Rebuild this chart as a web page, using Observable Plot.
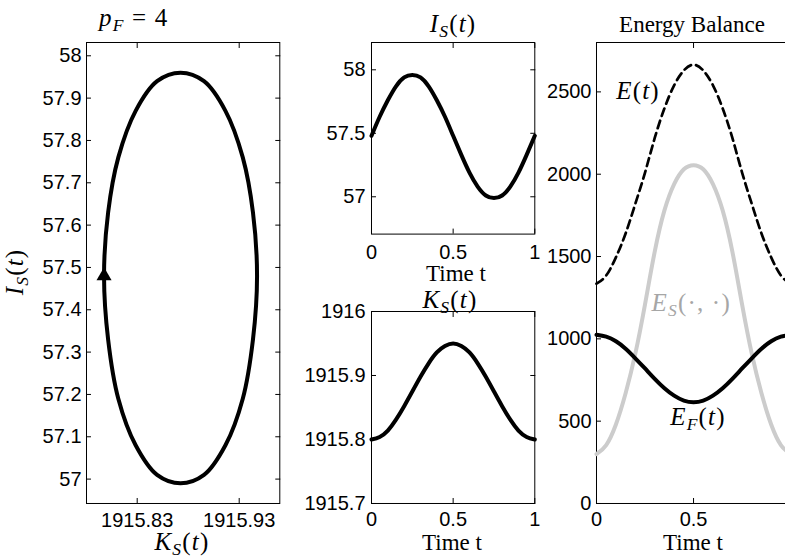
<!DOCTYPE html>
<html>
<head>
<meta charset="utf-8">
<script src="https://cdn.jsdelivr.net/npm/d3@7"></script>
<script src="https://cdn.jsdelivr.net/npm/@observablehq/plot@0.6"></script>
<style>
  html, body { margin: 0; padding: 0; background: #fff; overflow: hidden; }
  #fig { position: relative; width: 785px; height: 559px; overflow: hidden; background: #fff; }
  #fig svg { position: absolute; max-width: none; }
</style>
</head>
<body>
<div id="fig"></div>
<script>
// One period of the cycle, sampled every 0.05
const time = [0, 0.05, 0.1, 0.15, 0.2, 0.25, 0.3, 0.35, 0.4, 0.45, 0.5, 0.55, 0.6, 0.65, 0.7, 0.75, 0.8, 0.85, 0.9, 0.95, 1];
// I_S(t)
const iS = [57.48, 57.63, 57.76, 57.87, 57.94, 57.96, 57.94, 57.87, 57.76, 57.63, 57.48, 57.33, 57.19, 57.08, 57.01, 56.99, 57.01, 57.08, 57.19, 57.33, 57.48];
// K_S(t)
const kS = [1915.800, 1915.804, 1915.814, 1915.831, 1915.852, 1915.875, 1915.898, 1915.919, 1915.936, 1915.946, 1915.950, 1915.946, 1915.936, 1915.919, 1915.898, 1915.875, 1915.852, 1915.831, 1915.814, 1915.804, 1915.800];
// Energy balance: total E(t), stock part E_S, flow part E_F(t)
const energyTotal = [1335, 1385, 1495, 1640, 1820, 2010, 2220, 2400, 2540, 2630, 2665, 2630, 2540, 2400, 2220, 2010, 1820, 1640, 1495, 1385, 1335];
const energyS = [300, 355, 480, 670, 910, 1210, 1530, 1780, 1940, 2030, 2055, 2030, 1940, 1780, 1530, 1210, 910, 670, 480, 355, 300];
const energyF = [1025, 1013, 985, 940, 882, 820, 757, 700, 655, 625, 615, 625, 655, 700, 757, 820, 882, 940, 985, 1013, 1025];

// Tick values (phase-plot K ticks are printed to two decimals)
const phaseKTicks = [1915.8325, 1915.9325];
const phaseITicks = [57, 57.1, 57.2, 57.3, 57.4, 57.5, 57.6, 57.7, 57.8, 57.9, 58];
const iTicks = [57, 57.5, 58];
const kTicks = [1915.7, 1915.8, 1915.9, 1916];
const timeTicks = [0, 0.5, 1];
const energyTimeLabels = [0, 0.5];
const energyTicks = [0, 500, 1000, 1500, 2000, 2500];

// Curve labels in the energy panel
const energyLabels = [
  {t: 0.214, v: 2507, text: "E(t)", color: "black"},
  {t: 0.488, v: 1215, text: "E_S(·,·)", color: "#a6a6a6"},
  {t: 0.523, v: 526, text: "E_F(t)", color: "black"}
];

const rows = time.map((t, i) => ({t, iS: iS[i], kS: kS[i], e: energyTotal[i], es: energyS[i], ef: energyF[i]}));
const loop = rows.slice(0, rows.length - 1); // closed orbit without the repeated end point

const SANS = "'Liberation Sans', Arial, Helvetica, sans-serif";
const SERIF = "'Liberation Serif', 'Times New Roman', serif";
const MATH_FS = 25;

const fig = document.getElementById("fig");

// Boxed axes: inward ticks on all four sides, labels on bottom and left
function boxAxes(xt, yt, fmtX, fmtY, padX, padY, xLabels = xt) {
  return [
    Plot.frame({stroke: "black", strokeWidth: 1}),
    Plot.axisX(xt, {anchor: "bottom", tickSize: -5, fill: "none", label: null}),
    Plot.axisX(xt, {anchor: "top", tickSize: -5, fill: "none", label: null}),
    Plot.axisY(yt, {anchor: "left", tickSize: -5, fill: "none", label: null}),
    Plot.axisY(yt, {anchor: "right", tickSize: -5, fill: "none", label: null}),
    Plot.axisX(xLabels, {anchor: "bottom", tickSize: 0, tickPadding: padX, tickFormat: fmtX, label: null}),
    Plot.axisY(yt, {anchor: "left", tickSize: 0, tickPadding: padY, tickFormat: fmtY, label: null})
  ];
}

// Place one panel so its frame lands on the given box (page pixels)
function panel(box, xDomain, yDomain, marks) {
  const padL = 90, padT = 45, padR = 15, padB = 45;
  const w = (box.r - box.l) + padL + padR;
  const h = (box.b - box.t) + padT + padB;
  const svg = Plot.plot({
    width: w, height: h,
    marginLeft: padL, marginRight: padR, marginTop: padT, marginBottom: padB,
    x: {domain: xDomain, axis: null},
    y: {domain: yDomain, axis: null},
    style: {fontSize: "20px", fontFamily: SANS, background: "transparent", color: "black", overflow: "visible"},
    marks
  });
  svg.style.left = (box.l - padL) + "px";
  svg.style.top = (box.t - padT) + "px";
  fig.appendChild(svg);
  return svg;
}

const fmtStr = d => String(d);

// Phase portrait K_S vs I_S
panel({l: 86, t: 41.7, r: 279.3, b: 502.7}, [1915.7828, 1915.9723], [56.9424, 58.0314], [
  ...boxAxes(phaseKTicks, phaseITicks, d => d.toFixed(2), d => d.toFixed(1).replace(/\.0$/, ""), 9, 5),
  Plot.line(loop, {x: "kS", y: "iS", curve: "catmull-rom-closed", stroke: "black", strokeWidth: 4}),
  Plot.dot(rows.slice(0, 1), {x: "kS", y: "iS", symbol: "triangle", r: 5.6, fill: "black", stroke: "none"})
]);

// I_S(t)
panel({l: 371, t: 41.7, r: 534.3, b: 233.3}, [0, 1], [56.706, 58.215], [
  ...boxAxes(timeTicks, iTicks, fmtStr, fmtStr, 11, 6),
  Plot.line(rows, {x: "t", y: "iS", curve: "natural", stroke: "black", strokeWidth: 4})
]);

// K_S(t)
panel({l: 371, t: 310.7, r: 534.3, b: 502.7}, [0, 1], [1915.7, 1916], [
  ...boxAxes(timeTicks, kTicks, fmtStr, fmtStr, 8, 6),
  Plot.line(rows, {x: "t", y: "kS", curve: "natural", stroke: "black", strokeWidth: 4})
]);

// Energy balance
const energySvg = panel({l: 595.5, t: 41.7, r: 789.6, b: 502.7}, [0, 1], [0, 2800], [
  ...boxAxes(timeTicks, energyTicks, fmtStr, fmtStr, 8, 5, energyTimeLabels),
  Plot.line(rows, {x: "t", y: "es", curve: "natural", stroke: "#cccccc", strokeWidth: 4}),
  Plot.line(rows, {x: "t", y: "ef", curve: "natural", stroke: "black", strokeWidth: 4}),
  Plot.line(rows, {x: "t", y: "e", curve: "natural", stroke: "black", strokeWidth: 2.7, strokeDasharray: "8,5"}),
  Plot.text(energyLabels, {x: "t", y: "v", text: "text", fill: "color", fontFamily: SERIF, fontSize: MATH_FS, textAnchor: "middle", className: "curve-label"})
]);

// Math-style text: italic symbols, upright brackets, italic subscripts
const mathParts = {
  "E(t)": [["E", "i"], ["(", ""], ["t", "i"], [")", ""]],
  "E_S(·,·)": [["E", "i"], ["S", "sub"], ["(·, ·)", ""]],
  "E_F(t)": [["E", "i"], ["F", "sub"], ["(", ""], ["t", "i"], [")", ""]],
  "I_S(t)": [["I", "i"], ["S", "sub"], ["(", ""], ["t", "i"], [")", ""]],
  "K_S(t)": [["K", "i"], ["S", "sub"], ["(", ""], ["t", "i"], [")", ""]],
  "p_F = 4": [["p", "i"], ["F", "sub"], [" = 4", ""]]
};
function setMath(sel, parts, fs) {
  sel.text(null).attr("letter-spacing", 1.2);
  let shifted = false;
  for (const [s, kind] of parts) {
    const sp = sel.append("tspan").text(s);
    if (kind === "i" || kind === "sub") sp.attr("font-style", "italic");
    if (kind === "sub") { sp.attr("font-size", fs * 0.7).attr("dy", fs * 0.2); shifted = true; }
    else if (shifted) { sp.attr("dy", -fs * 0.2); shifted = false; }
  }
}
d3.select(energySvg).selectAll(".curve-label text").each(function () {
  const sel = d3.select(this);
  const parts = mathParts[sel.text()];
  if (parts) setMath(sel, parts, MATH_FS);
});

// Titles and axis labels
const overlay = d3.create("svg")
  .attr("width", 785).attr("height", 559)
  .style("left", "0px").style("top", "0px").style("pointer-events", "none")
  .attr("font-family", SERIF).attr("fill", "black");
function mathText(x, y, key, anchor = "middle", rotate = 0) {
  const t = overlay.append("text").attr("font-size", MATH_FS).attr("text-anchor", anchor)
    .attr("transform", `translate(${x},${y})` + (rotate ? ` rotate(${rotate})` : ""));
  setMath(t, mathParts[key], MATH_FS);
}
function plainText(x, y, s) {
  overlay.append("text").attr("font-size", 23).attr("text-anchor", "middle")
    .attr("x", x).attr("y", y).text(s);
}
mathText(99, 26, "p_F = 4", "start");
mathText(23, 272, "I_S(t)", "middle", -90);
mathText(182, 550, "K_S(t)");
mathText(453, 32, "I_S(t)");
plainText(456, 281, "Time t");
mathText(450, 308, "K_S(t)");
plainText(452, 550, "Time t");
plainText(692, 31.7, "Energy Balance");
plainText(693, 550, "Time t");
fig.appendChild(overlay.node());
</script>
</body>
</html>
